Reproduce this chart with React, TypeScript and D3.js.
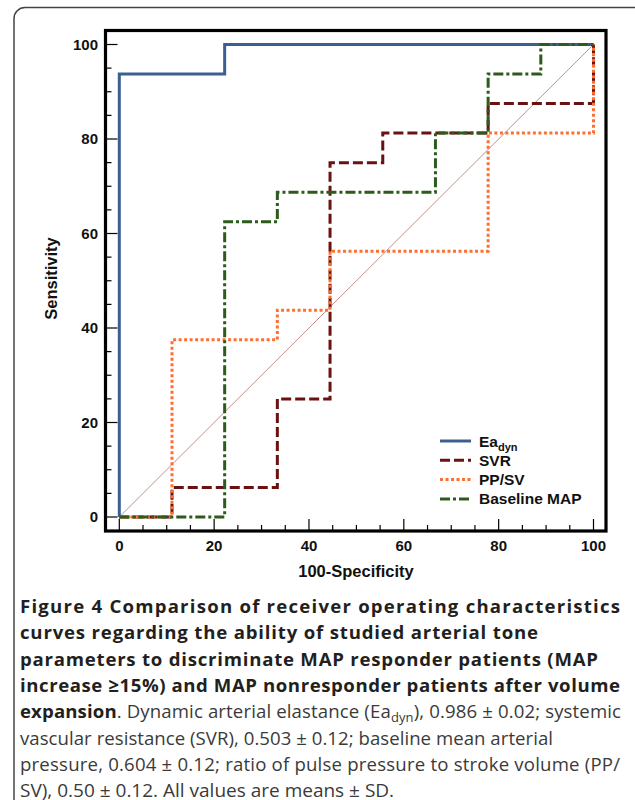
import React from "react";
import * as d3 from "d3";

type Pt = [number, number];

const eaDyn: Pt[] = [[0, 0], [0, 93.75], [22.22, 93.75], [22.22, 100], [100, 100]];
const svr: Pt[] = [[0, 0], [11.11, 0], [11.11, 6.25], [33.33, 6.25], [33.33, 25], [44.44, 25], [44.44, 75], [55.56, 75], [55.56, 81.25], [77.78, 81.25], [77.78, 87.5], [100, 87.5], [100, 100]];
const ppsv: Pt[] = [[0, 0], [11.11, 0], [11.11, 37.5], [33.33, 37.5], [33.33, 43.75], [44.44, 43.75], [44.44, 56.25], [77.78, 56.25], [77.78, 81.25], [100, 81.25], [100, 100]];
const baselineMap: Pt[] = [[0, 0], [22.22, 0], [22.22, 62.5], [33.33, 62.5], [33.33, 68.75], [66.67, 68.75], [66.67, 81.25], [77.78, 81.25], [77.78, 93.75], [88.89, 93.75], [88.89, 100], [100, 100]];
const diagonal: Pt[] = [[0, 0], [100, 100]];

const majorTicks = [0, 20, 40, 60, 80, 100];
const minorTicks = d3.range(0, 101, 5);

const legendLabels = ["Ea", "SVR", "PP/SV", "Baseline MAP"];

const captionBold = [
  "Figure 4 Comparison of receiver operating characteristics",
  "curves regarding the ability of studied arterial tone",
  "parameters to discriminate MAP responder patients (MAP",
  "increase \u226515%) and MAP nonresponder patients after volume",
];
const captionRegular = [
  "vascular resistance (SVR), 0.503 \u00b1 0.12; baseline mean arterial",
  "pressure, 0.604 \u00b1 0.12; ratio of pulse pressure to stroke volume (PP/",
  "SV), 0.50 \u00b1 0.12. All values are means \u00b1 SD.",
];
const line5Tail = "), 0.986 \u00b1 0.02; systemic";

const boldWidths = [600, 518, 578, 600];
const line5Width = 601;
const regularWidths: (number | undefined)[] = [533, 600, undefined];

const series = [
  { data: eaDyn, color: "#3c5f91", dash: "none", width: 3 },
  { data: svr, color: "#6a1212", dash: "10,4", width: 3 },
  { data: ppsv, color: "#ff6f30", dash: "3,2.5", width: 3 },
  { data: baselineMap, color: "#2c5b1c", dash: "10,3,3,3", width: 3 },
];

export default function App() {
  const x = d3.scaleLinear().domain([0, 100]).range([119.3, 593.5]);
  const y = d3.scaleLinear().domain([0, 100]).range([517, 44.5]);
  const line = d3.line<Pt>().x((d) => x(d[0])).y((d) => y(d[1]));

  const frame = { l: 105.5, t: 30.5, r: 606, b: 531 };
  const plotFont = "'Liberation Sans', Arial, sans-serif";
  const capFont = "'Open Sans', sans-serif";
  const capX = 20;
  const capY0 = 613;
  const capLH = 26.3;

  return (
    <svg width={635} height={800} style={{ position: "absolute", left: 0, top: 0, background: "#fff" }}>
      <rect x={14} y={7.5} width={640} height={900} rx={11} fill="#fff" stroke="#444" strokeWidth={1.5} />
      <rect x={frame.l} y={frame.t} width={frame.r - frame.l} height={frame.b - frame.t} fill="none" stroke="#000" strokeWidth={3.2} />

      {minorTicks.map((t) => {
        const major = t % 20 === 0;
        return (
          <g key={"t" + t}>
            <line x1={frame.l} x2={frame.l + (major ? 12 : 6)} y1={y(t)} y2={y(t)} stroke="#000" strokeWidth={1.2} />
            <line x1={x(t)} x2={x(t)} y1={frame.b} y2={frame.b - (major ? 12 : 6)} stroke="#000" strokeWidth={1.2} />
          </g>
        );
      })}
      {majorTicks.map((t) => (
        <g key={"l" + t} fontFamily={plotFont} fontWeight="bold" fontSize={15} fill="#111">
          <text x={98} y={y(t) + 5.3} textAnchor="end">{t}</text>
          <text x={x(t)} y={551} textAnchor="middle">{t}</text>
        </g>
      ))}

      <text x={356} y={577} textAnchor="middle" fontFamily={plotFont} fontWeight="bold" fontSize={16.5} fill="#111">100-Specificity</text>
      <text transform={`translate(56.5,278.5) rotate(-90)`} textAnchor="middle" fontFamily={plotFont} fontWeight="bold" fontSize={16.5} fill="#111">Sensitivity</text>

      <path d={line(diagonal) || ""} fill="none" stroke="#c48f8a" strokeWidth={1} />
      {series.map((s, i) => (
        <path key={i} d={line(s.data) || ""} fill="none" stroke={s.color} strokeWidth={s.width} strokeDasharray={s.dash} />
      ))}

      {series.map((s, i) => {
        const ly = 441 + i * 19.3;
        return (
          <g key={"lg" + i}>
            <line x1={440} x2={471} y1={ly} y2={ly} stroke={s.color} strokeWidth={s.width} strokeDasharray={s.dash} />
            <text x={479} y={ly + 5.5} fontFamily={plotFont} fontWeight="bold" fontSize={15.5} fill="#111">
              {legendLabels[i]}
              {i === 0 ? <tspan fontSize={11} dy={4}>dyn</tspan> : null}
            </text>
          </g>
        );
      })}

      <g fontFamily={capFont} fontSize={18.6}>
        {captionBold.map((t, i) => (
          <text key={"cb" + i} x={capX} y={capY0 + i * capLH} fontWeight="bold" fill="#231f20" textLength={boldWidths[i]} lengthAdjust="spacing">{t}</text>
        ))}
        <text x={capX} y={capY0 + 4 * capLH} fill="#3a3a3a" textLength={line5Width} lengthAdjust="spacing">
          <tspan fontWeight="bold" fill="#231f20">expansion</tspan>
          <tspan>. Dynamic arterial elastance (Ea</tspan>
          <tspan fontSize={13} dy={4}>dyn</tspan>
          <tspan dy={-4}>{line5Tail}</tspan>
        </text>
        {captionRegular.map((t, i) => (
          <text key={"cr" + i} x={capX} y={capY0 + (5 + i) * capLH} fill="#3a3a3a" fontSize={regularWidths[i] ? 18.6 : 19} textLength={regularWidths[i]} lengthAdjust="spacing">{t}</text>
        ))}
      </g>
    </svg>
  );
}
